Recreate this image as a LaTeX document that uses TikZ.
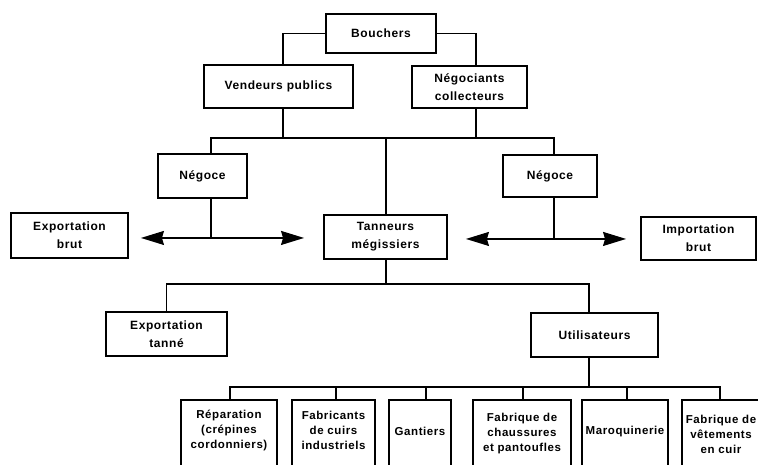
\documentclass[tikz,border=0pt]{standalone}
\usepackage{fontspec}
\setmainfont{Liberation Sans}
\newfontfamily\labfont[LetterSpace=5]{Liberation Sans}
\usetikzlibrary{arrows.meta}
\begin{document}
\begin{tikzpicture}[x=1pt,y=-1pt,
  box/.style={draw,line width=1.9pt,inner sep=0pt,align=center,
    font={\labfont\bfseries\fontsize{12pt}{18pt}\selectfont}},
  bbox/.style={draw,line width=1.9pt,inner sep=0pt,anchor=north,minimum height=100pt},
  btext/.style={inner sep=0pt,align=center,
    font={\labfont\bfseries\fontsize{11.5pt}{15pt}\selectfont}},
  conn/.style={line width=1.4pt},
  dblarr/.style={conn,{Stealth[length=23pt,width=14pt,inset=2pt]}-{Stealth[length=23pt,width=14pt,inset=2pt]}}
]
\clip (0,0) rectangle (758,464);
\fill[white] (0,0) rectangle (758,464);

% upper boxes
\node[box,minimum width=110pt,minimum height=39pt] (bouch) at (381,33.5) {Bouchers};
\node[box,minimum width=149pt,minimum height=43pt] (vend) at (278.5,86.5) {Vendeurs publics};
\node[box,minimum width=115pt,minimum height=42pt] (nego) at (469.5,87) {Négociants\\collecteurs};
\node[box,minimum width=89pt,minimum height=44pt] (negL) at (202.5,176) {Négoce};
\node[box,minimum width=94pt,minimum height=42pt] (negR) at (550,176) {Négoce};
\node[box,minimum width=123pt,minimum height=44pt] (tann) at (385.5,237) {Tanneurs\\mégissiers};
\node[box,minimum width=117pt,minimum height=45pt] (expb) at (69.5,235.5) {Exportation\\brut};
\node[box,minimum width=115pt,minimum height=43pt] (impb) at (698.5,238.5) {Importation\\brut};
\node[box,minimum width=121pt,minimum height=44pt] (expt) at (166.5,334) {Exportation\\tanné};
\node[box,minimum width=127pt,minimum height=44pt] (util) at (594.5,335) {Utilisateurs};

% bottom boxes
\node[bbox,minimum width=96pt] (b1) at (229,399) {};
\node[bbox,minimum width=83pt] (b2) at (333.5,399) {};
\node[bbox,minimum width=62pt] (b3) at (420,399) {};
\node[bbox,minimum width=98pt] (b4) at (522,399) {};
\node[bbox,minimum width=86pt] (b5) at (625,399) {};
\node[bbox,minimum width=80pt] (b6) at (722,399) {};
\node[btext] (t1) at (229,430) {Réparation\\(crépines\\cordonniers)};
\node[btext] (t2) at (333.5,430) {Fabricants\\de cuirs\\industriels};
\node[btext] (t3) at (420,431.5) {Gantiers};
\node[btext] (t4) at (522,434) {Fabrique de\\chaussures\\et pantoufles};
\node[btext] (t5) at (625,432) {Maroquinerie};
\node[btext] (t6) at (721,434) {Fabrique de\\vêtements\\en cuir};

% connectors top
\draw[conn] (bouch.west) -| ([xshift=4.5pt]vend.north);
\draw[conn] (bouch.east) -| ([xshift=6.5pt]nego.north);
\coordinate (j1) at (386,138);
\draw[conn] ([xshift=4.5pt]vend.south) |- (j1);
\draw[conn] ([xshift=6.5pt]nego.south) |- (j1);
\draw[conn] ([xshift=8.5pt]negL.north) |- (j1);
\draw[conn] ([xshift=4pt]negR.north) |- (j1);
\draw[conn] (j1) -- (j1 |- tann.north);

% arrows
\draw[conn] ([xshift=8.5pt]negL.south) -- ++(0,39) coordinate (aL);
\draw[dblarr] ([xshift=12pt]expb.east |- aL) -- ([xshift=-19pt]tann.west |- aL);
\draw[conn] ([xshift=4pt]negR.south) -- ++(0,41) coordinate (aR);
\draw[dblarr] ([xshift=18pt]tann.east |- aR) -- ([xshift=-14pt]impb.west |- aR);

% middle
\coordinate (j2) at (386,284);
\draw[conn] (tann.south -| j2) -- (j2);
\draw[conn] (expt.north) |- (j2);
\draw[conn] ([xshift=-5.5pt]util.north) |- (j2);

% bottom
\coordinate (j3) at (589,387);
\draw[conn] ([xshift=-5.5pt]util.south) -- (j3);
\draw[conn] ([xshift=1pt]b1.north) |- (j3) -| ([xshift=-2pt]b6.north);
\draw[conn] ([xshift=2.5pt]b2.north) -- ++(0,-12);
\draw[conn] ([xshift=6pt]b3.north) -- ++(0,-12);
\draw[conn] ([xshift=1pt]b4.north) -- ++(0,-12);
\draw[conn] ([xshift=2pt]b5.north) -- ++(0,-12);
\end{tikzpicture}
\end{document}
